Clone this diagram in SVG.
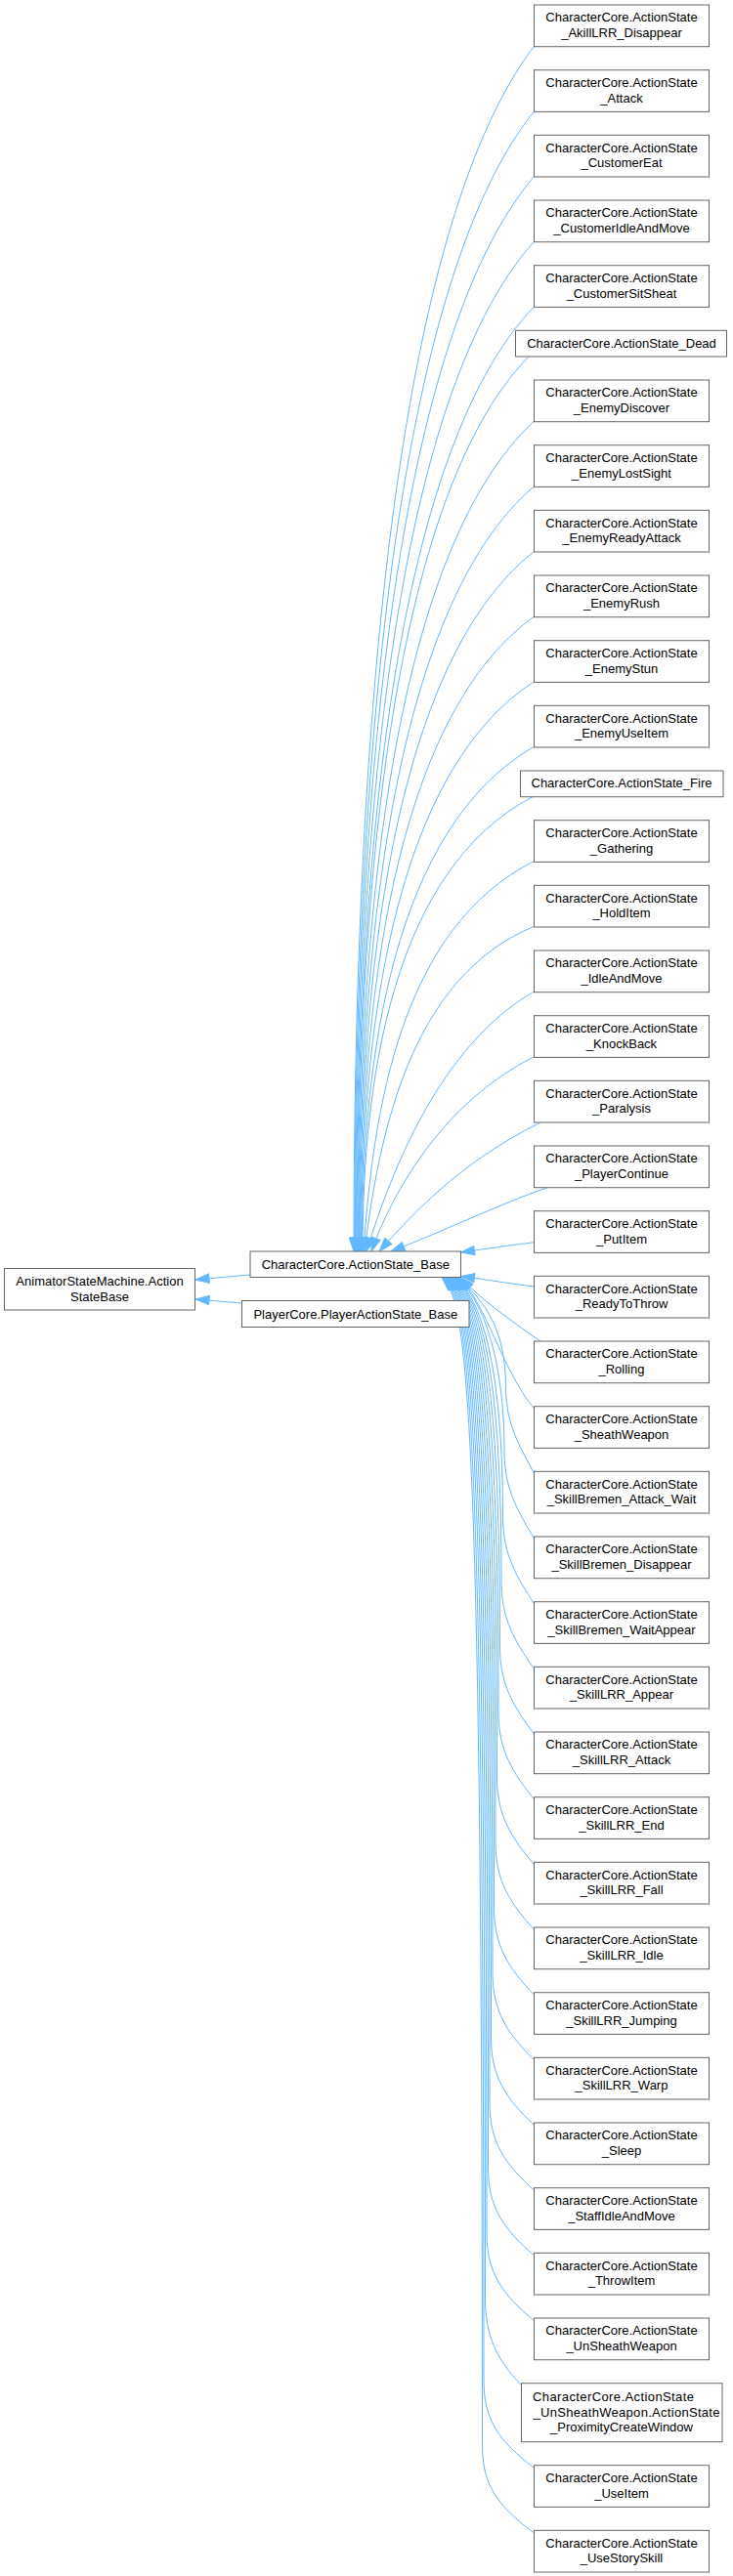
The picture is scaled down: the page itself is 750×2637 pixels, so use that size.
<svg xmlns="http://www.w3.org/2000/svg" width="750" height="2637" viewBox="0 0 750 2637">
<style>
.node rect{fill:#fff;stroke:#666;stroke-width:1}
.node text{font-family:"Liberation Sans",Arial,sans-serif;font-size:13px;fill:#000;text-anchor:middle}
.edges path{fill:none;stroke:#63b8ff;stroke-width:1;marker-start:url(#ah)}
</style>
<defs>
<marker id="ah" markerUnits="userSpaceOnUse" refX="0" refY="0" orient="auto" overflow="visible" markerWidth="16" markerHeight="12"><path d="M0,0 L14,-4.7 L14,4.7 z" fill="#63b8ff" stroke="#63b8ff" stroke-width="1"/></marker>
</defs>
<rect width="750" height="2637" fill="#fff"/>
<g id="edges" class="edges">
<path d="M200,1310 L256,1305"/>
<path d="M200,1330 L247.5,1334"/>
<path d="M362,1281 C362,812 395.3,244.2 547,46.7"/>
<path d="M362.8,1281 C362.8,837.3 395.9,300.2 547,113.3"/>
<path d="M363.5,1281 C363.5,862.6 396.5,356.2 547,180"/>
<path d="M364.3,1281 C364.3,888 397.1,412.2 547,246.7"/>
<path d="M365,1281 C365,913.3 397.8,468.1 547,313.3"/>
<path d="M365.8,1281 C365.8,932.9 397.3,511.6 541,365"/>
<path d="M366.5,1281 C366.5,957.9 399,566.7 547,430.7"/>
<path d="M367.3,1281 C367.3,983.2 399.6,622.7 547,497.3"/>
<path d="M368,1281 C368,1008.5 400.2,678.7 547,564"/>
<path d="M368.8,1281 C368.8,1033.9 400.8,734.7 547,630.7"/>
<path d="M369.5,1281 C369.5,1059.2 401.5,790.7 547,697.3"/>
<path d="M370.3,1281 C370.3,1084.5 402.1,846.7 547,764"/>
<path d="M371,1281 C371,1104.2 402.3,890.1 545,815.7"/>
<path d="M372,1281 C382,1135 410,950 547,881.3"/>
<path d="M373,1281 C388,1160 420,1000 547,948"/>
<path d="M375,1281 C400,1200 450,1070 547,1014.7"/>
<path d="M380,1281 C400,1225 450,1130 547,1081.5"/>
<path d="M388,1281 C420,1245 470,1190 553,1149"/>
<path d="M400,1281 C450,1262 510,1233 560,1215.7"/>
<path d="M471.5,1282 C500,1278 520,1275 547,1271.7"/>
<path d="M471.5,1306.5 C500,1310 520,1314 547,1317"/>
<path d="M471,1307.5 C492,1330 520,1350 553,1373"/>
<path d="M469,1307.5 C497,1332 512,1400 547,1442.7"/>
<path d="M468,1307.5 C497.7,1332.5 517.5,1363.4 517.5,1419.3 C517.5,1459.3 532.5,1481.3 547,1509.3"/>
<path d="M467,1307.5 C496.4,1332.5 516,1396.8 516,1486 C516,1526 531,1548 547,1576"/>
<path d="M466,1307.5 C495.1,1332.5 514.5,1407.5 514.5,1552.7 C514.5,1592.7 529.5,1614.7 547,1642.7"/>
<path d="M465,1307.5 C493.8,1332.5 513,1407.5 513,1619.3 C513,1659.3 528,1681.3 547,1709.3"/>
<path d="M464,1307.5 C492.5,1332.5 511.5,1407.5 511.5,1686 C511.5,1726 526.5,1748 547,1776"/>
<path d="M463,1307.5 C491.2,1332.5 510,1407.5 510,1752.7 C510,1792.7 525,1814.7 547,1842.7"/>
<path d="M462,1307.5 C489.9,1332.5 508.5,1407.5 508.5,1819.3 C508.5,1859.3 523.5,1881.3 547,1909.3"/>
<path d="M461,1307.5 C488.6,1332.5 507,1407.5 507,1886 C507,1926 522,1948 547,1976"/>
<path d="M460,1307.5 C487.3,1332.5 505.5,1407.5 505.5,1952.7 C505.5,1992.7 520.5,2014.7 547,2042.7"/>
<path d="M459,1307.5 C486,1332.5 504,1407.5 504,2019.3 C504,2059.3 519,2081.3 547,2109.3"/>
<path d="M458,1307.5 C484.7,1332.5 502.5,1407.5 502.5,2086 C502.5,2126 517.5,2148 547,2176"/>
<path d="M457,1307.5 C483.4,1332.5 501,1407.5 501,2152.7 C501,2192.7 516,2214.7 547,2242.7"/>
<path d="M456,1307.5 C482.1,1332.5 499.5,1407.5 499.5,2219.3 C499.5,2259.3 514.5,2281.3 547,2309.3"/>
<path d="M455,1307.5 C480.8,1332.5 498,1407.5 498,2286 C498,2326 513,2348 547,2376"/>
<path d="M454,1307.5 C479.5,1332.5 496.5,1407.5 496.5,2351.7 C496.5,2391.7 508,2415 533.5,2441.7"/>
<path d="M453,1307.5 C478.2,1332.5 495,1407.5 495,2436.7 C495,2476.7 510,2498.7 547,2526.7"/>
<path d="M452,1307.5 C476.9,1332.5 493.5,1407.5 493.5,2503.3 C493.5,2543.3 508.5,2565.3 547,2593.3"/>
</g>
<g id="node_animator" class="node"><rect x="4.5" y="1298.5" width="195" height="42.5"/><text x="102" y="1315.8">AnimatorStateMachine.Action</text><text x="102" y="1331.5">StateBase</text></g>
<g id="node_base" class="node"><rect x="256" y="1281" width="215.5" height="26.5"/><text x="363.8" y="1298.7">CharacterCore.ActionState_Base</text></g>
<g id="node_player" class="node"><rect x="247.5" y="1331.5" width="232.5" height="27"/><text x="363.8" y="1349.5">PlayerCore.PlayerActionState_Base</text></g>
<g id="n0" class="node"><rect x="546.5" y="5" width="179" height="42.7"/><text x="636" y="22.3">CharacterCore.ActionState</text><text x="636" y="38">_AkillLRR_Disappear</text></g>
<g id="n1" class="node"><rect x="546.5" y="71.7" width="179" height="42.7"/><text x="636" y="89">CharacterCore.ActionState</text><text x="636" y="104.7">_Attack</text></g>
<g id="n2" class="node"><rect x="546.5" y="138.3" width="179" height="42.7"/><text x="636" y="155.6">CharacterCore.ActionState</text><text x="636" y="171.3">_CustomerEat</text></g>
<g id="n3" class="node"><rect x="546.5" y="205" width="179" height="42.7"/><text x="636" y="222.3">CharacterCore.ActionState</text><text x="636" y="238">_CustomerIdleAndMove</text></g>
<g id="n4" class="node"><rect x="546.5" y="271.7" width="179" height="42.7"/><text x="636" y="289">CharacterCore.ActionState</text><text x="636" y="304.7">_CustomerSitSheat</text></g>
<g id="n5" class="node"><rect x="527.5" y="338.3" width="216" height="26.7"/><text x="636" y="355.6">CharacterCore.ActionState_Dead</text></g>
<g id="n6" class="node"><rect x="546.5" y="389" width="179" height="42.7"/><text x="636" y="406.3">CharacterCore.ActionState</text><text x="636" y="422">_EnemyDiscover</text></g>
<g id="n7" class="node"><rect x="546.5" y="455.7" width="179" height="42.7"/><text x="636" y="473">CharacterCore.ActionState</text><text x="636" y="488.7">_EnemyLostSight</text></g>
<g id="n8" class="node"><rect x="546.5" y="522.3" width="179" height="42.7"/><text x="636" y="539.6">CharacterCore.ActionState</text><text x="636" y="555.3">_EnemyReadyAttack</text></g>
<g id="n9" class="node"><rect x="546.5" y="589" width="179" height="42.7"/><text x="636" y="606.3">CharacterCore.ActionState</text><text x="636" y="622">_EnemyRush</text></g>
<g id="n10" class="node"><rect x="546.5" y="655.7" width="179" height="42.7"/><text x="636" y="673">CharacterCore.ActionState</text><text x="636" y="688.7">_EnemyStun</text></g>
<g id="n11" class="node"><rect x="546.5" y="722.3" width="179" height="42.7"/><text x="636" y="739.6">CharacterCore.ActionState</text><text x="636" y="755.3">_EnemyUseItem</text></g>
<g id="n12" class="node"><rect x="532.5" y="789" width="207.5" height="26.7"/><text x="636" y="806.3">CharacterCore.ActionState_Fire</text></g>
<g id="n13" class="node"><rect x="546.5" y="839.7" width="179" height="42.7"/><text x="636" y="857">CharacterCore.ActionState</text><text x="636" y="872.7">_Gathering</text></g>
<g id="n14" class="node"><rect x="546.5" y="906.3" width="179" height="42.7"/><text x="636" y="923.6">CharacterCore.ActionState</text><text x="636" y="939.3">_HoldItem</text></g>
<g id="n15" class="node"><rect x="546.5" y="973" width="179" height="42.7"/><text x="636" y="990.3">CharacterCore.ActionState</text><text x="636" y="1006">_IdleAndMove</text></g>
<g id="n16" class="node"><rect x="546.5" y="1039.7" width="179" height="42.7"/><text x="636" y="1057">CharacterCore.ActionState</text><text x="636" y="1072.7">_KnockBack</text></g>
<g id="n17" class="node"><rect x="546.5" y="1106.3" width="179" height="42.7"/><text x="636" y="1123.6">CharacterCore.ActionState</text><text x="636" y="1139.3">_Paralysis</text></g>
<g id="n18" class="node"><rect x="546.5" y="1173" width="179" height="42.7"/><text x="636" y="1190.3">CharacterCore.ActionState</text><text x="636" y="1206">_PlayerContinue</text></g>
<g id="n19" class="node"><rect x="546.5" y="1239.7" width="179" height="42.7"/><text x="636" y="1257">CharacterCore.ActionState</text><text x="636" y="1272.7">_PutItem</text></g>
<g id="n20" class="node"><rect x="546.5" y="1306.3" width="179" height="42.7"/><text x="636" y="1323.6">CharacterCore.ActionState</text><text x="636" y="1339.3">_ReadyToThrow</text></g>
<g id="n21" class="node"><rect x="546.5" y="1373" width="179" height="42.7"/><text x="636" y="1390.3">CharacterCore.ActionState</text><text x="636" y="1406">_Rolling</text></g>
<g id="n22" class="node"><rect x="546.5" y="1439.7" width="179" height="42.7"/><text x="636" y="1457">CharacterCore.ActionState</text><text x="636" y="1472.7">_SheathWeapon</text></g>
<g id="n23" class="node"><rect x="546.5" y="1506.3" width="179" height="42.7"/><text x="636" y="1523.6">CharacterCore.ActionState</text><text x="636" y="1539.3">_SkillBremen_Attack_Wait</text></g>
<g id="n24" class="node"><rect x="546.5" y="1573" width="179" height="42.7"/><text x="636" y="1590.3">CharacterCore.ActionState</text><text x="636" y="1606">_SkillBremen_Disappear</text></g>
<g id="n25" class="node"><rect x="546.5" y="1639.7" width="179" height="42.7"/><text x="636" y="1657">CharacterCore.ActionState</text><text x="636" y="1672.7">_SkillBremen_WaitAppear</text></g>
<g id="n26" class="node"><rect x="546.5" y="1706.3" width="179" height="42.7"/><text x="636" y="1723.6">CharacterCore.ActionState</text><text x="636" y="1739.3">_SkillLRR_Appear</text></g>
<g id="n27" class="node"><rect x="546.5" y="1773" width="179" height="42.7"/><text x="636" y="1790.3">CharacterCore.ActionState</text><text x="636" y="1806">_SkillLRR_Attack</text></g>
<g id="n28" class="node"><rect x="546.5" y="1839.7" width="179" height="42.7"/><text x="636" y="1857">CharacterCore.ActionState</text><text x="636" y="1872.7">_SkillLRR_End</text></g>
<g id="n29" class="node"><rect x="546.5" y="1906.3" width="179" height="42.7"/><text x="636" y="1923.6">CharacterCore.ActionState</text><text x="636" y="1939.3">_SkillLRR_Fall</text></g>
<g id="n30" class="node"><rect x="546.5" y="1973" width="179" height="42.7"/><text x="636" y="1990.3">CharacterCore.ActionState</text><text x="636" y="2006">_SkillLRR_Idle</text></g>
<g id="n31" class="node"><rect x="546.5" y="2039.7" width="179" height="42.7"/><text x="636" y="2057">CharacterCore.ActionState</text><text x="636" y="2072.7">_SkillLRR_Jumping</text></g>
<g id="n32" class="node"><rect x="546.5" y="2106.3" width="179" height="42.7"/><text x="636" y="2123.6">CharacterCore.ActionState</text><text x="636" y="2139.3">_SkillLRR_Warp</text></g>
<g id="n33" class="node"><rect x="546.5" y="2173" width="179" height="42.7"/><text x="636" y="2190.3">CharacterCore.ActionState</text><text x="636" y="2206">_Sleep</text></g>
<g id="n34" class="node"><rect x="546.5" y="2239.7" width="179" height="42.7"/><text x="636" y="2257">CharacterCore.ActionState</text><text x="636" y="2272.7">_StaffIdleAndMove</text></g>
<g id="n35" class="node"><rect x="546.5" y="2306.3" width="179" height="42.7"/><text x="636" y="2323.6">CharacterCore.ActionState</text><text x="636" y="2339.3">_ThrowItem</text></g>
<g id="n36" class="node"><rect x="546.5" y="2373" width="179" height="42.7"/><text x="636" y="2390.3">CharacterCore.ActionState</text><text x="636" y="2406">_UnSheathWeapon</text></g>
<g id="n37" class="node"><rect x="533.5" y="2439.7" width="205.5" height="60"/><text x="545" y="2458.2" style="text-anchor:start" textLength="165" lengthAdjust="spacing">CharacterCore.ActionState</text><text x="545.5" y="2473.8" style="text-anchor:start" textLength="191" lengthAdjust="spacing">_UnSheathWeapon.ActionState</text><text x="636" y="2489.3">_ProximityCreateWindow</text></g>
<g id="n38" class="node"><rect x="546.5" y="2523.7" width="179" height="42.7"/><text x="636" y="2541">CharacterCore.ActionState</text><text x="636" y="2556.7">_UseItem</text></g>
<g id="n39" class="node"><rect x="546.5" y="2590.3" width="179" height="42.7"/><text x="636" y="2607.6">CharacterCore.ActionState</text><text x="636" y="2623.3">_UseStorySkill</text></g>
</svg>
